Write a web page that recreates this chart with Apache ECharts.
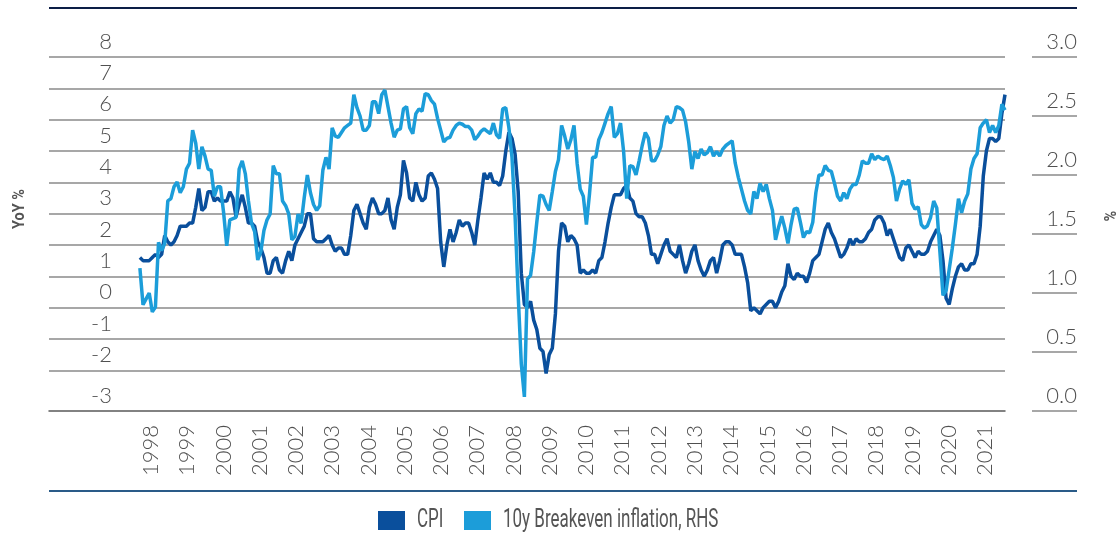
<!DOCTYPE html>
<html>
<head>
<meta charset="utf-8">
<title>CPI vs 10y breakeven inflation</title>
<script src="https://cdn.jsdelivr.net/npm/echarts@6/dist/echarts.min.js"></script>
<style>
  html, body { margin: 0; padding: 0; background: #fff; }
  #chart { width: 1116px; height: 534px; }
</style>
</head>
<body>
<div id="chart"></div>
<script>
// monthly observations, Aug 1998 - Nov 2021
const startYear = 1998;
const startMonth = 8;

// CPI, YoY % (left axis)
const cpi = [
  1.6, 1.5, 1.5, 1.5, 1.6,                                      // 1998 (Aug-Dec)
  1.7, 1.6, 1.7, 2.3, 2.1, 2.0, 2.1, 2.3, 2.6, 2.6, 2.6, 2.7,  // 1999
  2.7, 3.2, 3.8, 3.1, 3.2, 3.7, 3.7, 3.4, 3.5, 3.4, 3.4, 3.4,  // 2000
  3.7, 3.5, 2.9, 3.3, 3.6, 3.2, 2.7, 2.7, 2.6, 2.1, 1.9, 1.6,  // 2001
  1.1, 1.1, 1.5, 1.6, 1.2, 1.1, 1.5, 1.8, 1.5, 2.0, 2.2, 2.4,  // 2002
  2.6, 3.0, 3.0, 2.2, 2.1, 2.1, 2.1, 2.2, 2.3, 2.0, 1.8, 1.9,  // 2003
  1.9, 1.7, 1.7, 2.3, 3.1, 3.3, 3.0, 2.7, 2.5, 3.2, 3.5, 3.3,  // 2004
  3.0, 3.0, 3.1, 3.5, 2.8, 2.5, 3.2, 3.6, 4.7, 4.3, 3.5, 3.4,  // 2005
  4.0, 3.6, 3.4, 3.5, 4.2, 4.3, 4.1, 3.8, 2.1, 1.3, 2.0, 2.5,  // 2006
  2.1, 2.4, 2.8, 2.6, 2.7, 2.7, 2.4, 2.0, 2.8, 3.5, 4.3, 4.1,  // 2007
  4.3, 4.0, 4.0, 3.9, 4.2, 5.0, 5.6, 5.4, 4.9, 3.7, 1.1, 0.1,  // 2008
  0.0, 0.2, -0.4, -0.7, -1.3, -1.4, -2.1, -1.5, -1.3, -0.2, 1.8, 2.7, // 2009
  2.6, 2.1, 2.3, 2.2, 2.0, 1.1, 1.2, 1.1, 1.1, 1.2, 1.1, 1.5,  // 2010
  1.6, 2.1, 2.7, 3.2, 3.6, 3.6, 3.6, 3.8, 3.9, 3.5, 3.4, 3.0,  // 2011
  2.9, 2.9, 2.7, 2.3, 1.7, 1.7, 1.4, 1.7, 2.0, 2.2, 1.8, 1.7,  // 2012
  1.6, 2.0, 1.5, 1.1, 1.4, 1.8, 2.0, 1.5, 1.2, 1.0, 1.2, 1.5,  // 2013
  1.6, 1.1, 1.5, 2.0, 2.1, 2.1, 2.0, 1.7, 1.7, 1.7, 1.3, 0.8,  // 2014
  -0.1, 0.0, -0.1, -0.2, 0.0, 0.1, 0.2, 0.2, 0.0, 0.2, 0.5, 0.7, // 2015
  1.4, 1.0, 0.9, 1.1, 1.0, 1.0, 0.8, 1.1, 1.5, 1.6, 1.7, 2.1,  // 2016
  2.5, 2.7, 2.4, 2.2, 1.9, 1.6, 1.7, 1.9, 2.2, 2.0, 2.2, 2.1,  // 2017
  2.1, 2.2, 2.4, 2.5, 2.8, 2.9, 2.9, 2.7, 2.3, 2.5, 2.2, 1.9,  // 2018
  1.6, 1.5, 1.9, 2.0, 1.8, 1.6, 1.8, 1.7, 1.7, 1.8, 2.1, 2.3,  // 2019
  2.5, 2.3, 1.5, 0.3, 0.1, 0.6, 1.0, 1.3, 1.4, 1.2, 1.2, 1.4,  // 2020
  1.4, 1.7, 2.6, 4.2, 5.0, 5.4, 5.4, 5.3, 5.4, 6.2, 6.8        // 2021 (Jan-Nov)
];

// 10y breakeven inflation, % (right axis)
const breakeven = [
  1.21, 0.90, 0.95, 1.00, 0.84,                                            // 1998
  0.88, 1.43, 1.36, 1.42, 1.78, 1.80, 1.90, 1.94, 1.85, 1.90, 2.05, 2.10,  // 1999
  2.38, 2.27, 2.05, 2.24, 2.16, 2.05, 2.04, 1.82, 1.90, 1.90, 1.68, 1.40,  // 2000
  1.62, 1.63, 1.64, 2.05, 2.12, 2.01, 1.78, 1.59, 1.52, 1.28, 1.35, 1.53,  // 2001
  1.62, 1.67, 2.08, 2.01, 2.01, 1.78, 1.74, 1.67, 1.45, 1.48, 1.67, 1.59,  // 2002
  1.81, 2.00, 1.85, 1.75, 1.70, 1.74, 2.04, 2.15, 2.05, 2.40, 2.33, 2.32,  // 2003
  2.36, 2.40, 2.42, 2.44, 2.68, 2.57, 2.50, 2.38, 2.38, 2.42, 2.62, 2.62,  // 2004
  2.52, 2.68, 2.72, 2.58, 2.44, 2.32, 2.38, 2.39, 2.56, 2.58, 2.40, 2.35,  // 2005
  2.52, 2.56, 2.54, 2.69, 2.68, 2.63, 2.60, 2.48, 2.38, 2.28, 2.31, 2.32,  // 2006
  2.38, 2.42, 2.44, 2.43, 2.41, 2.41, 2.38, 2.30, 2.33, 2.37, 2.39, 2.37,  // 2007
  2.35, 2.44, 2.34, 2.31, 2.56, 2.57, 2.40, 2.15, 1.65, 0.98, 0.40, 0.12,  // 2008
  1.12, 1.15, 1.35, 1.60, 1.83, 1.82, 1.75, 1.70, 1.86, 2.03, 2.13, 2.42,  // 2009
  2.33, 2.22, 2.30, 2.42, 2.10, 1.88, 1.82, 1.58, 1.84, 2.15, 2.15, 2.30,  // 2010
  2.36, 2.44, 2.52, 2.58, 2.32, 2.35, 2.44, 2.20, 1.80, 2.08, 2.07, 2.00,  // 2011
  2.12, 2.25, 2.36, 2.31, 2.12, 2.12, 2.17, 2.24, 2.42, 2.50, 2.44, 2.47,  // 2012
  2.58, 2.57, 2.55, 2.45, 2.28, 2.05, 2.20, 2.14, 2.22, 2.17, 2.19, 2.24,  // 2013
  2.16, 2.20, 2.16, 2.22, 2.25, 2.27, 2.29, 2.10, 1.98, 1.88, 1.78, 1.70,  // 2014
  1.67, 1.86, 1.80, 1.93, 1.86, 1.92, 1.80, 1.70, 1.45, 1.56, 1.65, 1.55,  // 2015
  1.42, 1.58, 1.71, 1.72, 1.60, 1.47, 1.52, 1.51, 1.60, 1.85, 2.00, 2.00,  // 2016
  2.08, 2.04, 2.03, 1.93, 1.82, 1.78, 1.85, 1.80, 1.88, 1.92, 1.92, 2.00,  // 2017
  2.12, 2.10, 2.10, 2.18, 2.13, 2.16, 2.14, 2.13, 2.16, 2.08, 1.98, 1.78,  // 2018
  1.88, 1.95, 1.92, 1.96, 1.76, 1.71, 1.73, 1.58, 1.55, 1.57, 1.64, 1.78,  // 2019
  1.72, 1.35, 0.98, 1.02, 1.20, 1.38, 1.58, 1.80, 1.68, 1.78, 1.84, 2.05,  // 2020
  2.14, 2.18, 2.40, 2.44, 2.47, 2.36, 2.42, 2.36, 2.42, 2.60, 2.55         // 2021
];

const yearLabels = [1998, 1999, 2000, 2001, 2002, 2003, 2004, 2005, 2006, 2007, 2008,
  2009, 2010, 2011, 2012, 2013, 2014, 2015, 2016, 2017, 2018, 2019, 2020, 2021];
const leftTicks = [-3, -2, -1, 0, 1, 2, 3, 4, 5, 6, 7, 8];
const rightTicks = [0, 0.5, 1, 1.5, 2, 2.5, 3];

const seriesNames = ['CPI', '10y Breakeven inflation, RHS'];
const seriesColors = ['#0a4f9c', '#1c9dd9'];

// axis extents as laid out in the original
const leftMin = -3.3;
const xMin = 1996.14;
const xMax = 2021.8333;
const labelAxisMin = 1995.19;
const labelAxisMax = 2021.55;

const numFont = 'Lato';
const narrowFont = 'Roboto';

function toPoints(values) {
  return values.map((v, i) => [startYear + (startMonth - 1 + i) / 12, v]);
}

const numLabel = {
  fontFamily: numFont,
  fontWeight: 300,
  fontSize: 22,
  color: '#505050'
};

// legend drawn by hand so the narrow lettering of the original can be matched
function legendItem(left, textLeft, i) {
  return [
    { type: 'rect', shape: { x: left, y: 511, width: 27, height: 19 }, style: { fill: seriesColors[i] } },
    {
      type: 'text', x: textLeft, y: 521, scaleX: 0.68,
      style: { text: seriesNames[i], fontFamily: narrowFont, fontSize: 25, fill: '#555', align: 'left', verticalAlign: 'middle' }
    }
  ];
}

const chart = echarts.init(document.getElementById('chart'));

chart.setOption({
  animation: false,
  backgroundColor: '#fff',
  grid: { left: 49, right: 111, top: 57, bottom: 123 },
  xAxis: [
    {
      type: 'value',
      min: xMin,
      max: xMax,
      axisLine: { show: true, onZero: false, lineStyle: { color: '#5a5a5a', width: 1.5 } },
      axisTick: { show: false },
      axisLabel: { show: false },
      splitLine: { show: false }
    },
    {
      type: 'value',
      position: 'bottom',
      min: labelAxisMin,
      max: labelAxisMax,
      axisLine: { show: false },
      axisTick: { show: false },
      splitLine: { show: false },
      axisLabel: Object.assign({
        customValues: yearLabels,
        rotate: 90,
        margin: 14,
        formatter: v => String(v)
      }, numLabel)
    }
  ],
  yAxis: [
    {
      type: 'value',
      position: 'left',
      min: leftMin,
      max: 8,
      axisLine: { show: false },
      axisTick: { show: false, customValues: leftTicks.filter(v => v > -3) },
      splitLine: { show: true, lineStyle: { color: '#8a8a8a', width: 1.5 } },
      axisLabel: Object.assign({
        customValues: leftTicks.map(v => (v === -3 ? leftMin : v)),
        align: 'right',
        margin: -63,
        verticalAlign: 'bottom',
        lineHeight: 31,
        formatter: v => String(Math.round(v))
      }, numLabel)
    },
    {
      type: 'value',
      position: 'right',
      offset: 27,
      min: 0,
      max: 3,
      interval: 0.5,
      axisLine: { show: false },
      splitLine: { show: false },
      axisTick: { show: true, customValues: rightTicks, length: 45, lineStyle: { color: '#8a8a8a', width: 1.5 } },
      axisLabel: Object.assign({
        customValues: rightTicks,
        align: 'right',
        margin: 45,
        verticalAlign: 'bottom',
        lineHeight: 31,
        formatter: v => v.toFixed(1)
      }, numLabel)
    }
  ],
  graphic: [
    { type: 'line', shape: { x1: 49, y1: 8, x2: 1077, y2: 8 }, style: { stroke: '#0c1e46', lineWidth: 2 } },
    { type: 'line', shape: { x1: 49, y1: 491, x2: 1077, y2: 491 }, style: { stroke: '#2a5b88', lineWidth: 2 } },
    {
      type: 'text', x: 20, y: 209, rotation: Math.PI / 2, scaleX: 0.85,
      style: { text: 'YoY %', fontFamily: narrowFont, fontWeight: 'bold', fontSize: 17, fill: '#555', align: 'center', verticalAlign: 'middle' }
    },
    {
      type: 'text', x: 1108, y: 216, rotation: -Math.PI / 2, scaleX: 0.85,
      style: { text: '%', fontFamily: narrowFont, fontWeight: 'bold', fontSize: 17, fill: '#555', align: 'center', verticalAlign: 'middle' }
    },
    ...legendItem(378, 417, 0),
    ...legendItem(464, 503, 1)
  ],
  series: [
    {
      name: seriesNames[0],
      type: 'line',
      xAxisIndex: 0,
      yAxisIndex: 0,
      data: toPoints(cpi),
      showSymbol: false,
      color: seriesColors[0],
      lineStyle: { width: 3.5, color: seriesColors[0] }
    },
    {
      name: seriesNames[1],
      type: 'line',
      xAxisIndex: 0,
      yAxisIndex: 1,
      data: toPoints(breakeven),
      showSymbol: false,
      color: seriesColors[1],
      lineStyle: { width: 3.5, color: seriesColors[1] }
    }
  ]
});
</script>
</body>
</html>
